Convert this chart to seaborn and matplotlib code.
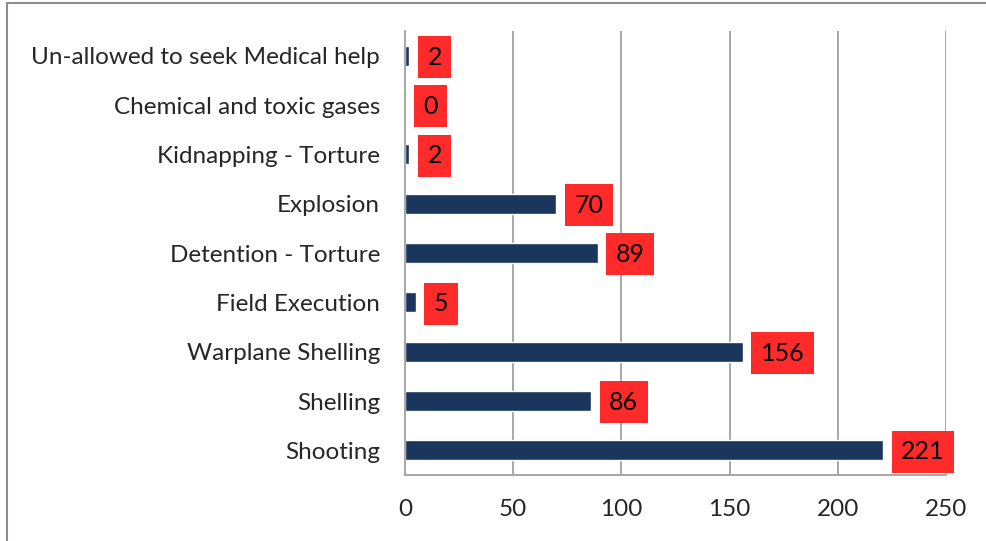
import matplotlib
matplotlib.use("Agg")
import matplotlib.pyplot as plt
import seaborn as sns
import pandas as pd
from matplotlib.lines import Line2D

# data (top to bottom as shown)
categories = ["Un-allowed to seek Medical help", "Chemical and toxic gases",
              "Kidnapping - Torture", "Explosion", "Detention - Torture",
              "Field Execution", "Warplane Shelling", "Shelling", "Shooting"]
counts = [2, 0, 2, 70, 89, 5, 156, 86, 221]
xticks = [0, 50, 100, 150, 200, 250]

df = pd.DataFrame({"category": categories, "count": counts})

sns.set_style("white")
plt.rcParams["font.family"] = ["Lato", "DejaVu Sans"]

fig = plt.figure(figsize=(9.87, 5.41), dpi=100)
ax = fig.add_axes([405 / 987, 1 - 475 / 541, 541 / 987, 444 / 541])

sns.barplot(data=df, y="category", x="count", orient="h", color="#1b365d",
            width=0.4, saturation=1, ax=ax)

ax.set_xlim(0, 250)
ax.set_ylim(len(categories) - 0.5, -0.5)
ax.set_xticks(xticks)
ax.set_xlabel("")
ax.set_ylabel("")

# vertical gridlines
for v in xticks[1:]:
    ax.axvline(v, color="#a0a0a0", lw=1.3, zorder=0)

for s in ["top", "right"]:
    ax.spines[s].set_visible(False)
for s in ["left", "bottom"]:
    ax.spines[s].set_color("#a0a0a0")
    ax.spines[s].set_linewidth(1.3)

ax.tick_params(axis="x", length=7, width=1.3, color="#a0a0a0", direction="out",
               labelsize=17.5, pad=10)
ax.tick_params(axis="y", which="major", length=0, labelsize=17.5, pad=18)
ax.set_yticks([i + 0.5 for i in range(-1, len(categories))], minor=True)
ax.tick_params(axis="y", which="minor", length=7, width=1.3, color="#a0a0a0",
               direction="out")

# red value boxes
for i, c in enumerate(counts):
    ax.annotate(str(c), xy=(c, i), xytext=(13, -1), textcoords="offset points",
                ha="left", va="center", fontsize=18, color="black",
                bbox=dict(boxstyle="square,pad=0.38", fc="#ff2b2b", ec="none"))

# figure border (left/top)
fig.add_artist(Line2D([7.5 / 987, 7.5 / 987], [0, 1 - 2.5 / 541],
                      transform=fig.transFigure, color="#8c8c8c", lw=1.5))
fig.add_artist(Line2D([7.5 / 987, 1], [1 - 2.5 / 541, 1 - 2.5 / 541],
                      transform=fig.transFigure, color="#8c8c8c", lw=1.5))

fig.savefig("out.png", dpi=100)
